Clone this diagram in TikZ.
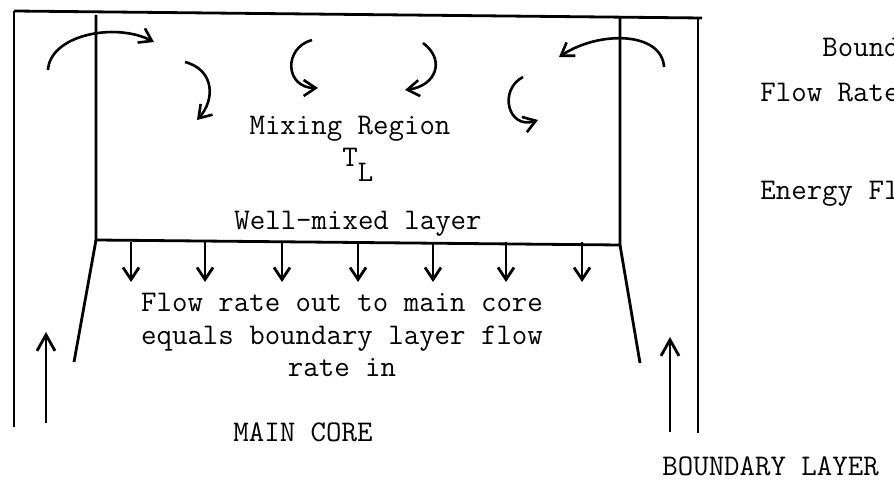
\documentclass[tikz,border=0pt]{standalone}
\usepackage{tikz}
\usetikzlibrary{arrows.meta}

\begin{document}
\begin{tikzpicture}[
  x=0.5pt, y=-0.5pt,
  wall/.style={line width=1.4pt},
  flow/.style={line width=1.4pt, -{Straight Barb[length=6pt,width=8pt]}},
  rise/.style={line width=1.4pt, -{Straight Barb[length=8pt,width=9pt]}},
  eddy/.style={line width=1.3pt, -{Straight Barb[length=6pt,width=8pt]}},
  typed/.style={font=\ttfamily\fontsize{15}{16.25}\selectfont,
                inner sep=0pt, align=center}
]
\useasboundingbox (0,0) rectangle (894,480);

% walls of the tank and the mixing box
\coordinate (otl) at (14,11);
\coordinate (otr) at (702,18);
\coordinate (ort) at (698,18);
\coordinate (obl) at (14,427);
\coordinate (obr) at (698,433);
\coordinate (itl) at (96,15);
\coordinate (itr) at (620,18);
\coordinate (ibl) at (96,240);
\coordinate (ibr) at (620,245);
\coordinate (lslant) at (74,362);
\coordinate (rslant) at (640,363);

\draw[wall] (otl) -- (otr);
\draw[wall] (otl) -- (obl);
\draw[wall] (ort) -- (obr);
\draw[wall] (itl) -- (ibl) -- (ibr) -- (itr);
\draw[wall] (ibl) -- (lslant);
\draw[wall] (ibr) -- (rslant);

% boundary layer rising
\coordinate (lfoot) at (46,423);
\coordinate (lhead) at (46,332);
\coordinate (rfoot) at (670,432);
\coordinate (rhead) at (670,337);
\draw[rise] (lfoot) -- (lhead);
\draw[rise] (rfoot) -- (rhead);

% outflow to the core
\foreach \x [count=\i] in {131,205,282,358,433,506,582}{
  \coordinate (drop\i) at (\x,242);
  \coordinate (land\i) at (\x,282);
  \draw[flow] (drop\i) -- (land\i);
}

% eddies
\coordinate (e1a) at (48,70);   \coordinate (e1b) at (154,42);
\coordinate (e2a) at (185,62);  \coordinate (e2b) at (197,120);
\coordinate (e3a) at (312,40);  \coordinate (e3b) at (318,88);
\coordinate (e4a) at (423,43);  \coordinate (e4b) at (405,90);
\coordinate (e5a) at (523,77);  \coordinate (e5b) at (538,120);
\coordinate (e6a) at (664,67);  \coordinate (e6b) at (559,57);
\draw[eddy] (e1a) .. controls (50,35) and (115,22) .. (e1b);
\draw[eddy] (e2a) .. controls (215,70) and (215,100) .. (e2b);
\draw[eddy] (e3a) .. controls (283,48) and (285,88) .. (e3b);
\draw[eddy] (e4a) .. controls (446,60) and (436,86) .. (e4b);
\draw[eddy] (e5a) .. controls (498,90) and (508,130) .. (e5b);
\draw[eddy] (e6a) .. controls (662,32) and (600,30) .. (e6b);

% texts
\node[typed, anchor=base] (mixing) at (350,135) {Mixing Region};
\node[typed, anchor=base west] (templ) at (342,167) {T\raisebox{-7.5pt}{L}};
\node[typed, anchor=base] (wellmix) at (358,230) {Well-mixed layer};
\node[typed, anchor=base] (outflow) at (342,377)
     {Flow rate out to main core\\equals boundary layer flow\\rate in};
\node[typed, anchor=base] (core) at (303,442) {MAIN CORE};
\node[typed, anchor=base west] (bltitle) at (662,475) {BOUNDARY LAYER};
\node[typed, anchor=base west] (bound) at (822,57) {Bound};
\node[typed, anchor=base west] (rate) at (760,102) {Flow Rate};
\node[typed, anchor=base west] (energy) at (760,200) {Energy Fl};
\end{tikzpicture}
\end{document}
